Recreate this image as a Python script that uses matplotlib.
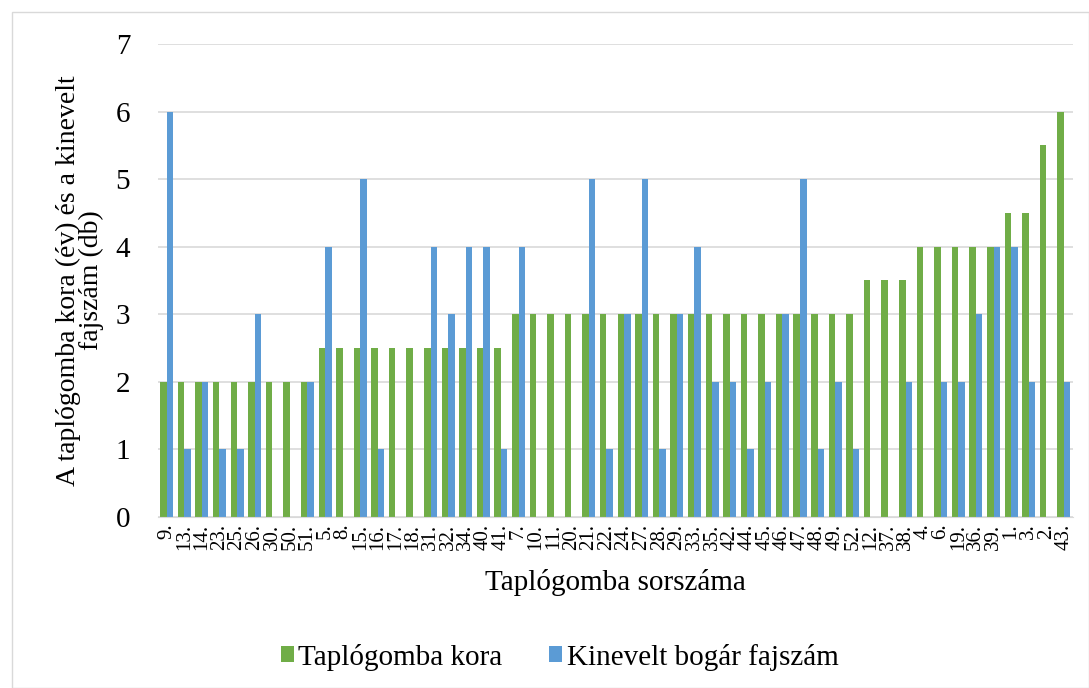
import numpy as np
import matplotlib
matplotlib.use("Agg")
import matplotlib.pyplot as plt
from matplotlib.patches import Rectangle

# =========================
# DATA
# =========================
sorszam = ["9.", "13.", "14.", "23.", "25.", "26.", "30.", "50.", "51.", "5.",
           "8.", "15.", "16.", "17.", "18.", "31.", "32.", "34.", "40.", "41.",
           "7.", "10.", "11.", "20.", "21.", "22.", "24.", "27.", "28.", "29.",
           "33.", "35.", "42.", "44.", "45.", "46.", "47.", "48.", "49.", "52.",
           "12.", "37.", "38.", "4.", "6.", "19.", "36.", "39.", "1.", "3.",
           "2.", "43."]

kora = [2, 2, 2, 2, 2, 2, 2, 2, 2, 2.5,
        2.5, 2.5, 2.5, 2.5, 2.5, 2.5, 2.5, 2.5, 2.5, 2.5,
        3, 3, 3, 3, 3, 3, 3, 3, 3, 3,
        3, 3, 3, 3, 3, 3, 3, 3, 3, 3,
        3.5, 3.5, 3.5, 4, 4, 4, 4, 4, 4.5, 4.5,
        5.5, 6]

fajszam = [6, 1, 2, 1, 1, 3, 0, 0, 2, 4,
           0, 5, 1, 0, 0, 4, 3, 4, 4, 1,
           4, 0, 0, 0, 5, 1, 3, 5, 1, 3,
           4, 2, 2, 1, 2, 3, 5, 1, 2, 1,
           0, 0, 2, 0, 2, 2, 3, 4, 4, 2,
           0, 2]

# =========================
# PLOT
# =========================
plt.rcParams["font.family"] = ["Liberation Serif", "DejaVu Serif"]

fig = plt.figure(figsize=(10.89, 6.88), dpi=100)
ax = fig.add_axes([0.145, 0.249, 0.84, 0.687])

# keret
fig.patches.append(Rectangle((12 / 1089, 0), 1 - 12 / 1089, 1 - 12 / 688,
                             transform=fig.transFigure, fill=False,
                             edgecolor="#d9d9d9", linewidth=1))

x = np.arange(len(sorszam))
w = 0.37
ax.bar(x - w / 2, kora, w, color="#70AD47", label="Taplógomba kora")
ax.bar(x + w / 2, fajszam, w, color="#5B9BD5", label="Kinevelt bogár fajszám")

ax.set_xlim(-0.5, len(sorszam) - 0.5)
ax.set_ylim(0, 7)
ax.set_yticks(range(0, 8))
ax.yaxis.grid(True, color="#d9d9d9", linewidth=1.2)
ax.set_axisbelow(True)
for s in ["top", "right", "left"]:
    ax.spines[s].set_visible(False)
ax.spines["bottom"].set_color("#d9d9d9")

ax.set_xticks(x)
ax.set_xticklabels(sorszam, rotation=90, fontsize=15)
ax.tick_params(axis="both", length=0)
ax.tick_params(axis="y", labelsize=21, pad=20)
ax.tick_params(axis="x", pad=5)

ax.set_xlabel("Taplógomba sorszáma", fontsize=21, labelpad=14)
ax.set_ylabel("A taplógomba kora (év) és a kinevelt\nfajszám (db)", fontsize=20,
              linespacing=0.9, labelpad=8)

fig.legend(loc="lower center", bbox_to_anchor=(0.514, -0.013), ncol=2,
           frameon=False, fontsize=21, handlelength=0.45, handleheight=0.45,
           columnspacing=1.6, handletextpad=0.15)

fig.savefig("out.png", dpi=100)
